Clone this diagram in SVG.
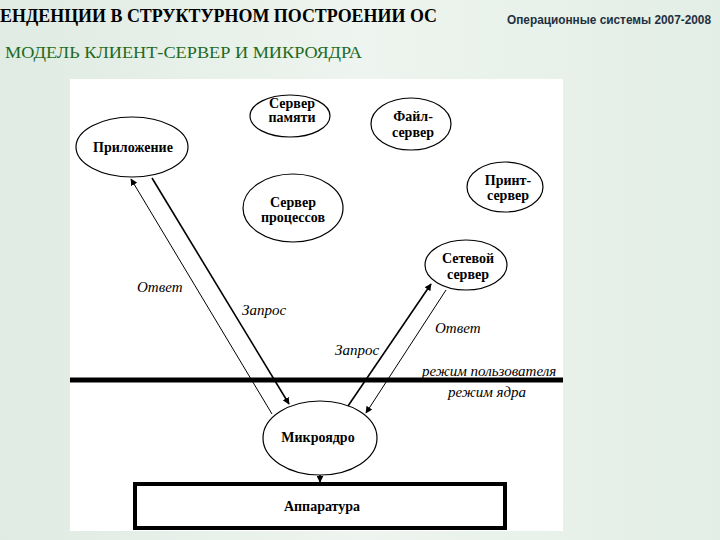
<svg xmlns="http://www.w3.org/2000/svg" width="720" height="540" viewBox="0 0 720 540">
<style>
.node{fill:#fff;stroke:#000;stroke-width:1.2}
.nt{font-family:'Liberation Serif','Times New Roman','DejaVu Serif',serif;font-weight:bold;font-size:14px;fill:#000;text-anchor:middle}
.lbl{font-family:'Liberation Serif','Times New Roman','DejaVu Serif',serif;font-style:italic;font-size:15px;fill:#000}
.thin{stroke:#000;stroke-width:1;fill:none}
.thick{stroke:#000;stroke-width:1.6;fill:none}
</style>
<defs>
<linearGradient id="bg" x1="0" y1="0" x2="1" y2="0">
<stop offset="0" stop-color="#dfebe3"/>
<stop offset="0.5" stop-color="#eef4ef"/>
<stop offset="1" stop-color="#e2eee6"/>
</linearGradient>
<marker id="ah" viewBox="0 0 10 10" refX="9" refY="5" markerWidth="7" markerHeight="7" markerUnits="userSpaceOnUse" orient="auto">
<path d="M0,0 L10,5 L0,10 z" fill="#000"/>
</marker>
</defs>
<rect x="0" y="0" width="720" height="540" fill="url(#bg)"/>
<rect x="70" y="79" width="493" height="452" fill="#fff"/>
<text x="0" y="22" font-family="'Liberation Serif','DejaVu Serif',serif" font-weight="bold" font-size="18" textLength="437" lengthAdjust="spacingAndGlyphs" fill="#000">ЕНДЕНЦИИ В СТРУКТУРНОМ ПОСТРОЕНИИ ОС</text>
<text x="507" y="24" font-family="'Liberation Sans',sans-serif" font-weight="bold" font-size="12" textLength="204" lengthAdjust="spacingAndGlyphs" fill="#1f3040">Операционные системы 2007-2008</text>
<text x="5" y="58" font-family="'Liberation Serif','DejaVu Serif',serif" font-size="17" textLength="357" lengthAdjust="spacingAndGlyphs" fill="#1e6b1e">МОДЕЛЬ КЛИЕНТ-СЕРВЕР И МИКРОЯДРА</text>
<line x1="70" y1="380" x2="563" y2="380" stroke="#000" stroke-width="5"/>
<g id="connectors">
<line class="thin" x1="272" y1="414" x2="131" y2="179" marker-end="url(#ah)"/>
<line class="thick" x1="152" y1="178" x2="289" y2="404" marker-end="url(#ah)"/>
<line class="thick" x1="348" y1="406" x2="431" y2="284" marker-end="url(#ah)"/>
<line class="thin" x1="446" y1="290" x2="366" y2="413" marker-end="url(#ah)"/>
<line class="thick" x1="320" y1="475" x2="320" y2="482" marker-end="url(#ah)"/>
</g>
<g id="labels">
<text class="lbl" x="137" y="292">Ответ</text>
<text class="lbl" x="242" y="315">Запрос</text>
<text class="lbl" x="335" y="355">Запрос</text>
<text class="lbl" x="435" y="333">Ответ</text>
<text class="lbl" x="422" y="376">режим пользователя</text>
<text class="lbl" x="448" y="397">режим ядра</text>
</g>
<g id="app"><ellipse class="node" cx="132" cy="147" rx="56" ry="30"/><text class="nt" x="133" y="152">Приложение</text></g>
<g id="mem"><ellipse class="node" cx="290" cy="116" rx="40" ry="21"/><text class="nt" x="292" y="108">Сервер</text><text class="nt" x="292" y="122">памяти</text></g>
<g id="file"><ellipse class="node" cx="411" cy="124" rx="40" ry="26"/><text class="nt" x="413" y="121">Файл-</text><text class="nt" x="413" y="137">сервер</text></g>
<g id="print"><ellipse class="node" cx="505" cy="187" rx="38" ry="25"/><text class="nt" x="508" y="185">Принт-</text><text class="nt" x="508" y="200">сервер</text></g>
<g id="proc"><ellipse class="node" cx="293" cy="208" rx="50" ry="34"/><text class="nt" x="293" y="207">Сервер</text><text class="nt" x="293" y="222">процессов</text></g>
<g id="net"><ellipse class="node" cx="466" cy="265" rx="41" ry="25"/><text class="nt" x="468" y="263">Сетевой</text><text class="nt" x="468" y="279">сервер</text></g>
<g id="micro"><ellipse class="node" cx="320" cy="438" rx="57" ry="37"/><text class="nt" x="318" y="442">Микроядро</text></g>
<g id="hw"><rect x="135" y="484" width="370" height="44" fill="#fff" stroke="#000" stroke-width="4"/><text class="nt" x="322" y="511">Аппаратура</text></g>
</svg>
